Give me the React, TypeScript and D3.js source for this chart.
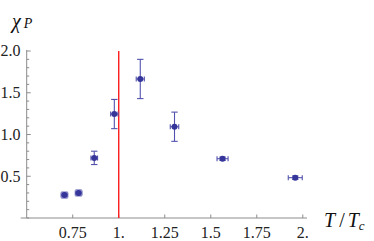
import * as d3 from 'd3';

const W = 374;
const H = 241;

// measured points: T/Tc, chi_P, errors
const tValues = [0.705, 0.782, 0.867, 0.976, 1.117, 1.303, 1.564, 1.959];
const chiValues = [0.275, 0.3, 0.72, 1.245, 1.665, 1.093, 0.71, 0.483];
const tErrors = [0.018, 0.018, 0.018, 0.02, 0.022, 0.023, 0.03, 0.038];
const chiErrors = [0.035, 0.035, 0.08, 0.175, 0.235, 0.175, 0.02, 0.02];

const xTicks = [0.75, 1, 1.25, 1.5, 1.75, 2];
const xTickLabels = ['0.75', '1.', '1.25', '1.5', '1.75', '2.'];
const yTicks = [0.5, 1, 1.5, 2];
const yTickLabels = ['0.5', '1.0', '1.5', '2.0'];
const criticalT = 1;

const AXIS = '#8c8c8c';
const POINT = '#35359a';
const BAR = '#5252ad';
const FONT = "'Liberation Serif', 'Times New Roman', serif";

export default function App() {
  const x = d3.scaleLinear().domain([0.5, 2]).range([26.7, 302.8]);
  const y = d3.scaleLinear().domain([0, 2]).range([218, 51]);
  const minorY = d3.range(0, 21).map((i) => i / 10).filter((v) => !yTicks.includes(v));

  const capV = 3.2;
  const capH = 2.5;

  return (
    <svg
      width={W}
      height={H}
      style={{ position: 'absolute', left: 0, top: 0, background: '#fff', fontFamily: FONT }}
    >
      {/* axes */}
      <line x1={x(0.5) - 6} x2={307} y1={y(0)} y2={y(0)} stroke={AXIS} strokeWidth={1} />
      <line x1={x(0.5)} x2={x(0.5)} y1={y(0)} y2={y(2) - 1} stroke={AXIS} strokeWidth={1} />

      {xTicks.map((t, i) => (
        <g key={t}>
          <line x1={x(t)} x2={x(t)} y1={y(0)} y2={y(0) - 3.5} stroke={AXIS} />
          <text x={x(t)} y={238} textAnchor="middle" fontSize={16} fill="#222">
            {xTickLabels[i]}
          </text>
        </g>
      ))}

      {yTicks.map((t, i) => (
        <g key={t}>
          <line x1={x(0.5)} x2={x(0.5) + 4} y1={y(t)} y2={y(t)} stroke={AXIS} />
          <text x={20.5} y={y(t) + 5.3} textAnchor="end" fontSize={16} fill="#222">
            {yTickLabels[i]}
          </text>
        </g>
      ))}
      {minorY.map((t) => (
        <line key={t} x1={x(0.5)} x2={x(0.5) + 2.5} y1={y(t)} y2={y(t)} stroke={AXIS} />
      ))}

      {/* critical temperature */}
      <line
        x1={x(criticalT)}
        x2={x(criticalT)}
        y1={y(0)}
        y2={y(2)}
        stroke="#ff1a1a"
        strokeWidth={1.4}
      />

      {/* error bars + points */}
      {tValues.map((t, i) => {
        const cx = x(t);
        const cy = y(chiValues[i]);
        const x0 = x(t - tErrors[i]);
        const x1 = x(t + tErrors[i]);
        const y0 = y(chiValues[i] - chiErrors[i]);
        const y1 = y(chiValues[i] + chiErrors[i]);
        return (
          <g key={t} stroke={BAR} strokeWidth={1.1} fill="none">
            <line x1={cx} x2={cx} y1={y0} y2={y1} />
            <line x1={cx - capV} x2={cx + capV} y1={y0} y2={y0} />
            <line x1={cx - capV} x2={cx + capV} y1={y1} y2={y1} />
            <line x1={x0} x2={x1} y1={cy} y2={cy} />
            <line x1={x0} x2={x0} y1={cy - capH} y2={cy + capH} />
            <line x1={x1} x2={x1} y1={cy - capH} y2={cy + capH} />
            <circle cx={cx} cy={cy} r={3} fill={POINT} stroke="none" />
          </g>
        );
      })}

      {/* axis labels */}
      <text x={12} y={28} fill="#111">
        <tspan fontSize={20} fontStyle="italic">χ</tspan>
        <tspan fontSize={14} fontStyle="italic" dx={3}>P</tspan>
      </text>
      <text x={324} y={227} fill="#111" fontSize={20}>
        <tspan fontStyle="italic">T</tspan>
        <tspan dx={4}>/</tspan>
        <tspan fontStyle="italic" dx={3}>T</tspan>
        <tspan fontStyle="italic" fontSize={13} dy={3}>c</tspan>
      </text>
    </svg>
  );
}
